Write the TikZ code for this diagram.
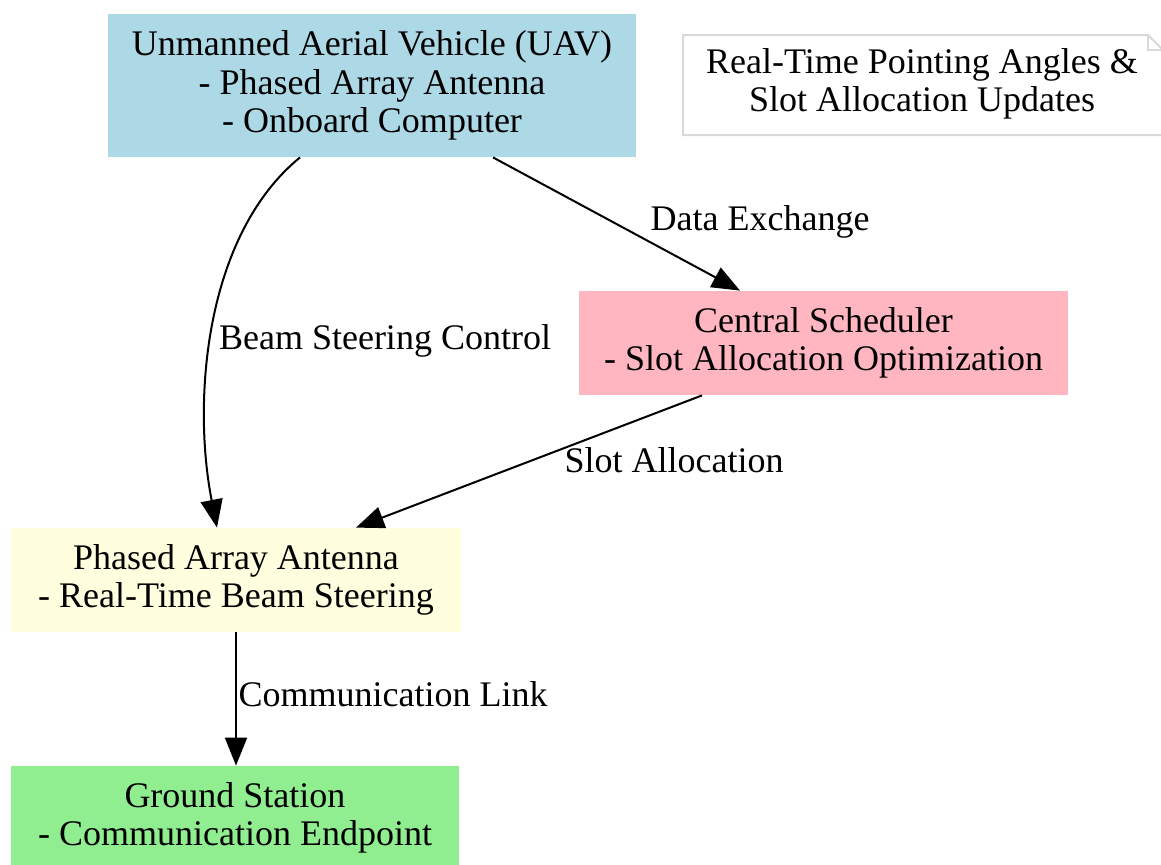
\documentclass[tikz,border=0pt]{standalone}
\usepackage{fontspec}
\setmainfont{Liberation Serif}
\usetikzlibrary{arrows.meta,calc}
\definecolor{uavblue}{HTML}{ADD8E6}
\definecolor{schedpink}{HTML}{FFB6C1}
\definecolor{antyellow}{HTML}{FFFFE0}
\definecolor{gsgreen}{HTML}{90EE90}
\definecolor{notegray}{HTML}{D9D9D9}
\tikzset{
  box/.style={draw=none, rectangle, align=center, inner sep=0pt,
    font=\fontsize{18}{19.2}\selectfont},
  lbl/.style={inner sep=0pt, font=\fontsize{18}{19.2}\selectfont},
  conn/.style={line width=1pt, -{Triangle[length=14pt,width=11pt]}}
}
\begin{document}
\begin{tikzpicture}[x=0.5pt,y=-0.5pt]
\useasboundingbox (0,0) rectangle (1161,864);
\fill[white] (0,0) rectangle (1161,864);
% nodes
\node[box, fill=uavblue, minimum width=264pt, minimum height=71.5pt] (uav) at (372,85.5)
  {Unmanned Aerial Vehicle (UAV)\\- Phased Array Antenna\\- Onboard Computer};
\node[box, fill=schedpink, minimum width=244.5pt, minimum height=52pt] (sched) at (823.5,343)
  {Central Scheduler\\- Slot Allocation Optimization};
\node[box, fill=antyellow, minimum width=225pt, minimum height=52pt] (ant) at (236,580)
  {Phased Array Antenna\\- Real-Time Beam Steering};
\node[box, fill=gsgreen, minimum width=224pt, minimum height=52pt] (gs) at (235,818)
  {Ground Station\\- Communication Endpoint};
% note
\draw[notegray, line width=1pt, fill=white] (683,35) -- (1148,35) -- (1163,50) -- (1163,135) -- (683,135) -- cycle;
\draw[notegray, line width=1pt] (1148,35) -- (1148,50) -- (1163,50);
\node[box] (note) at (922,84) {Real-Time Pointing Angles \&\\Slot Allocation Updates};
% connectors
\draw[conn] ($(uav.south)+(-72,0)$) .. controls (205,235) and (192,400) .. ($(ant.north)+(-19,0)$);
\draw[conn] ($(uav.south)+(121,0)$) -- ($(sched.north)+(-83.5,0)$);
\draw[conn] ($(sched.south)+(-121.5,0)$) -- ($(ant.north)+(120,0)$);
\draw[conn] (ant.south) -- (ant.south |- gs.north);
% labels
\node[lbl] (l1) at (385,341) {Beam Steering Control};
\node[lbl] (l2) at (760,222) {Data Exchange};
\node[lbl] (l3) at (674,460) {Slot Allocation};
\node[lbl] (l4) at (393,694) {Communication Link};
\end{tikzpicture}
\end{document}
